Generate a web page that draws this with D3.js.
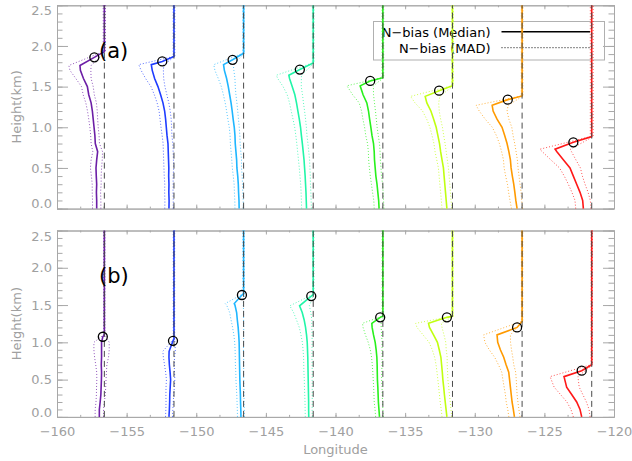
<!DOCTYPE html>
<html>
<head>
<meta charset="utf-8">
<script src="https://cdnjs.cloudflare.com/ajax/libs/d3/7.8.5/d3.min.js"></script>
<style>
body { margin: 0; background: #fff; }
svg text { font-family: "DejaVu Sans", sans-serif; }
</style>
</head>
<body>
<script>
// reference longitude of each site (dashed lines)
var stationLon = [-156.6, -151.6, -146.6, -141.6, -136.6, -131.6, -126.6, -121.6];
var colors = ["#6c1ea6", "#1e3cff", "#1fb6ff", "#22f5a8", "#28f01c", "#c0ff10", "#ff9a00", "#ff1818"];
var xTicks = [-160, -155, -150, -145, -140, -135, -130, -125, -120];
var yTicks = [0, 0.5, 1.0, 1.5, 2.0, 2.5];
// height grid (km) for the profile values below
var heights = [0, 0.1, 0.2, 0.3, 0.4, 0.5, 0.6, 0.7, 0.8, 0.9, 1.0, 1.1, 1.2, 1.3, 1.4, 1.5, 1.6, 1.7, 1.8, 1.9, 2.0];

// ---- panel (a) : N-bias median / MAD, in degrees of longitude from the site line
var medA = [
  [-0.55,-0.55,-0.57,-0.55,-0.58,-0.6,-0.55,-0.48,-0.65,-0.68,-0.74,-0.8,-0.86,-0.95,-1.12,-1.22,-1.5,-1.72],
  [-0.36,-0.35,-0.37,-0.36,-0.38,-0.37,-0.39,-0.41,-0.43,-0.5,-0.55,-0.6,-0.67,-0.79,-0.96,-1.15,-1.39,-1.56],
  [-0.32,-0.33,-0.36,-0.38,-0.42,-0.48,-0.5,-0.55,-0.6,-0.62,-0.67,-0.75,-0.82,-0.9,-1.0,-1.1,-1.22,-1.38],
  [-0.48,-0.5,-0.52,-0.55,-0.58,-0.62,-0.66,-0.72,-0.78,-0.85,-0.91,-1.0,-1.1,-1.2,-1.32,-1.51,-1.7],
  [-0.27,-0.3,-0.36,-0.42,-0.5,-0.55,-0.6,-0.62,-0.67,-0.78,-0.86,-0.95,-1.03,-1.15,-1.42],
  [-0.4,-0.45,-0.5,-0.55,-0.6,-0.65,-0.75,-0.85,-0.93,-1.05,-1.17,-1.35,-1.55,-1.84],
  [-0.36,-0.45,-0.52,-0.6,-0.7,-0.79,-0.84,-0.95,-1.08,-1.25,-1.44,-1.8,-2.08],
  [-0.6,-0.65,-0.84,-1.08,-1.32,-1.56,-2.04,-2.5]
];
var madA = [
  [0.3,0.3,0.3,0.32,0.35,0.4,0.4,0.35,0.3,0.3,0.3,0.32,0.35,0.38,0.4,0.42,0.55,0.75],
  [0.3,0.3,0.3,0.3,0.32,0.35,0.35,0.35,0.35,0.35,0.38,0.4,0.4,0.42,0.45,0.5,0.65,0.8],
  [0.3,0.3,0.3,0.3,0.32,0.33,0.35,0.35,0.35,0.35,0.36,0.38,0.4,0.42,0.45,0.5,0.6,0.68],
  [0.35,0.35,0.35,0.35,0.37,0.38,0.4,0.4,0.4,0.4,0.42,0.45,0.48,0.5,0.55,0.65,0.85],
  [0.35,0.35,0.38,0.4,0.4,0.42,0.42,0.42,0.43,0.45,0.45,0.48,0.5,0.55,0.75],
  [0.35,0.35,0.35,0.36,0.36,0.36,0.38,0.4,0.4,0.42,0.45,0.5,0.6,0.85],
  [0.4,0.42,0.45,0.45,0.48,0.5,0.5,0.52,0.55,0.6,0.7,0.85,1.0],
  [0.55,0.55,0.58,0.6,0.65,0.75,0.9,1.05]
];
var peakHA   = [1.76, 1.77, 1.77, 1.64, 1.51, 1.38, 1.27, 0.73];
var peakOffA = [-1.75, -1.63, -1.44, -1.75, -1.63, -1.96, -2.15, -2.63];
var peakMadA = [0.8, 0.9, 0.7, 0.9, 0.95, 1.05, 1.15, 1.1];
var circHA   = [1.86, 1.81, 1.83, 1.71, 1.57, 1.45, 1.34, 0.815];
var circOffA = [-0.72, -0.84, -0.79, -0.96, -0.91, -0.96, -1.03, -1.32];
var topHA    = [1.93, 1.87, 1.91, 1.79, 1.61, 1.51, 1.385, 0.885];
var madTopA  = [0.08, 0.06, 0.06, 0.06, 0.06, 0.06, 0.06, 0.1];

// ---- panel (b)
var medB = [
  [-0.36,-0.36,-0.3,-0.25,-0.23,-0.21,-0.2,-0.22,-0.2,-0.2],
  [-0.36,-0.33,-0.31,-0.3,-0.27,-0.24,-0.28,-0.33,-0.36],
  [-0.19,-0.2,-0.22,-0.23,-0.25,-0.27,-0.28,-0.29,-0.3,-0.31,-0.32,-0.35,-0.39,-0.45,-0.5,-0.62],
  [-0.32,-0.33,-0.33,-0.34,-0.35,-0.36,-0.37,-0.38,-0.39,-0.41,-0.43,-0.48,-0.55,-0.65,-0.79],
  [-0.24,-0.28,-0.32,-0.34,-0.36,-0.39,-0.4,-0.41,-0.43,-0.48,-0.55,-0.67,-0.77],
  [-0.4,-0.46,-0.52,-0.58,-0.63,-0.69,-0.73,-0.78,-0.83,-0.95,-1.08,-1.36,-1.65],
  [-0.55,-0.63,-0.72,-0.78,-0.84,-0.9,-0.96,-1.15,-1.32,-1.56,-1.75],
  [-0.72,-0.84,-1.08,-1.44,-1.8]
];
var madB = [
  [0.3,0.3,0.3,0.32,0.33,0.33,0.35,0.4,0.5,0.55],
  [0.25,0.25,0.26,0.28,0.3,0.3,0.32,0.35,0.4],
  [0.25,0.25,0.25,0.26,0.27,0.28,0.28,0.3,0.3,0.3,0.32,0.35,0.4,0.45,0.5,0.6],
  [0.25,0.25,0.26,0.27,0.28,0.28,0.3,0.3,0.3,0.32,0.35,0.4,0.45,0.55,0.62],
  [0.28,0.28,0.3,0.3,0.3,0.3,0.32,0.35,0.38,0.42,0.5,0.58,0.65],
  [0.35,0.35,0.36,0.36,0.36,0.36,0.38,0.4,0.45,0.5,0.6,0.75,0.9],
  [0.4,0.4,0.42,0.42,0.45,0.48,0.5,0.55,0.65,0.8,0.92],
  [0.6,0.65,0.7,0.8,0.9]
];
var peakHB   = [1.0, 0.88, 1.52, 1.49, 1.255, 1.255, 1.10, 0.54];
var peakOffB = [-0.2, -0.35, -0.67, -0.98, -0.79, -1.72, -1.8, -1.99];
var peakMadB = [0.55, 0.45, 0.65, 0.7, 0.67, 0.92, 0.96, 1.0];
var circHB   = [1.075, 1.02, 1.635, 1.62, 1.335, 1.335, 1.2, 0.62];
var circOffB = [-0.11, -0.07, -0.12, -0.14, -0.19, -0.4, -0.36, -0.72];
var topHB    = [1.1, 1.04, 1.65, 1.64, 1.35, 1.35, 1.28, 0.70];
var madTopB  = [0.05, 0.05, 0.05, 0.05, 0.05, 0.05, 0.05, 0.05];

var W = 632, H = 461;
var axisColor = "#a8a8a8", labelColor = "#a0a0a0";

var svg = d3.select("body").append("svg")
    .attr("width", W)
    .attr("height", H);

var x = d3.scaleLinear().domain([-160, -120]).range([57, 614]);

var xMinor = d3.range(-160, -119.9, 5 / 3);
var yMinor = d3.range(0, 2.51, 0.1);

// one panel = frame + ticks + profiles
function drawPanel(top, bottom, label, labelY, showX, med, mad, peakH, peakOff, peakMad, circH, circOff, topH, madTop, legend) {

  var y = d3.scaleLinear().domain([0, 2.5]).range([bottom, top]);
  var g = svg.append("g");

  function styleAxis(sel) {
    sel.select(".domain").attr("stroke", axisColor);
    sel.selectAll(".tick line").attr("stroke", axisColor);
    sel.attr("font-size", 13).attr("font-family", "DejaVu Sans, sans-serif");
    sel.selectAll(".tick text").attr("fill", labelColor);
  }

  // left axis with labels
  var left = g.append("g").attr("transform", "translate(" + x.range()[0] + ",0)")
      .call(d3.axisLeft(y).tickValues(yTicks).tickSize(-11).tickSizeOuter(0).tickPadding(5)
        .tickFormat(d3.format(".1f")));
  styleAxis(left);
  // IDL keeps the end labels inside the box
  left.selectAll(".tick text").attr("transform", function(d) {
    if (d === 2.5) return "translate(0,5.5)";
    if (d === 0) return "translate(0,-4.8)";
    return null;
  });
  styleAxis(g.append("g").attr("transform", "translate(" + x.range()[0] + ",0)")
      .call(d3.axisLeft(y).tickValues(yMinor).tickSize(-5.5).tickSizeOuter(0).tickFormat("")));
  styleAxis(g.append("g").attr("transform", "translate(" + x.range()[1] + ",0)")
      .call(d3.axisRight(y).tickValues(yTicks).tickSize(-11).tickSizeOuter(0).tickFormat("")));
  styleAxis(g.append("g").attr("transform", "translate(" + x.range()[1] + ",0)")
      .call(d3.axisRight(y).tickValues(yMinor).tickSize(-5.5).tickSizeOuter(0).tickFormat("")));

  var bottomAxis = g.append("g").attr("transform", "translate(0," + bottom + ")")
      .call(d3.axisBottom(x).tickValues(xTicks).tickSize(-4).tickSizeOuter(0).tickPadding(10)
        .tickFormat(showX ? d3.format("d") : ""));
  styleAxis(bottomAxis);
  styleAxis(g.append("g").attr("transform", "translate(0," + bottom + ")")
      .call(d3.axisBottom(x).tickValues(xMinor).tickSize(-2).tickSizeOuter(0).tickFormat("")));
  styleAxis(g.append("g").attr("transform", "translate(0," + top + ")")
      .call(d3.axisTop(x).tickValues(xTicks).tickSize(-4).tickSizeOuter(0).tickFormat("")));
  styleAxis(g.append("g").attr("transform", "translate(0," + top + ")")
      .call(d3.axisTop(x).tickValues(xMinor).tickSize(-2).tickSizeOuter(0).tickFormat("")));

  // y title
  g.append("text")
    .attr("transform", "translate(21," + ((top + bottom) / 2) + ") rotate(-90)")
    .attr("text-anchor", "middle")
    .attr("font-size", 13)
    .attr("fill", labelColor)
    .text("Height(km)");

  if (legend) legend(g);

  var line = d3.line()
      .x(function(d) { return d[0]; })
      .y(function(d) { return y(d[1]); });

  stationLon.forEach(function(lon, p) {
    var solid = [], lo = [], hi = [];
    med[p].forEach(function(v, i) {
      solid.push([x(lon + v), heights[i]]);
      lo.push([x(lon + v - mad[p][i]), heights[i]]);
      hi.push([x(lon + v + mad[p][i]), heights[i]]);
    });
    solid.push([x(lon + peakOff[p]), peakH[p]]);
    solid.push([x(lon + circOff[p]), circH[p]]);
    solid.push([x(lon), topH[p]]);
    solid.push([x(lon), 2.5]);
    lo.push([x(lon + peakOff[p] - peakMad[p]), peakH[p]]);
    lo.push([x(lon - madTop[p]), topH[p]]);
    lo.push([x(lon - madTop[p]), 2.5]);
    hi.push([x(lon + peakOff[p] + peakMad[p]), peakH[p]]);
    hi.push([x(lon + madTop[p]), topH[p]]);
    hi.push([x(lon + madTop[p]), 2.5]);

    [lo, hi].forEach(function(pts) {
      g.append("path")
        .attr("d", line(pts))
        .attr("fill", "none")
        .attr("stroke", colors[p])
        .attr("stroke-opacity", 0.75)
        .attr("stroke-width", 1)
        .attr("stroke-dasharray", "1,2");
    });
    g.append("path")
      .attr("d", line(solid))
      .attr("fill", "none")
      .attr("stroke", colors[p])
      .attr("stroke-width", 1.6);
  });

  // site lines
  g.selectAll("line.site")
    .data(stationLon)
    .enter().append("line")
      .attr("class", "site")
      .attr("x1", function(d) { return x(d); })
      .attr("x2", function(d) { return x(d); })
      .attr("y1", y(0))
      .attr("y2", y(2.5))
      .attr("stroke", "#4a4a4a")
      .attr("stroke-width", 1)
      .attr("stroke-dasharray", "6,4");

  // PBL markers
  g.selectAll("circle.pbl")
    .data(stationLon)
    .enter().append("circle")
      .attr("class", "pbl")
      .attr("cx", function(d, i) { return x(d + circOff[i]); })
      .attr("cy", function(d, i) { return y(circH[i]); })
      .attr("r", 4.5)
      .attr("fill", "none")
      .attr("stroke", "#000")
      .attr("stroke-width", 1.3);

  g.append("text")
    .attr("x", 99)
    .attr("y", labelY)
    .attr("font-size", 21)
    .attr("fill", "#000")
    .text(label);
}

function drawLegend(g) {
  g.append("rect")
    .attr("x", 373.5).attr("y", 21.5)
    .attr("width", 231).attr("height", 38.5)
    .attr("fill", "none")
    .attr("stroke", "#b0b0b0");
  var rows = [["N\u2212bias (Median)", null, 36.5, 31.7], ["N\u2212bias (MAD)", "1,2", 52.5, 47.7]];
  rows.forEach(function(r) {
    g.append("text")
      .attr("x", 490.5).attr("y", r[2])
      .attr("text-anchor", "end")
      .attr("font-size", 13)
      .attr("fill", "#000")
      .text(r[0]);
    g.append("line")
      .attr("x1", 501.5).attr("x2", 590)
      .attr("y1", r[3]).attr("y2", r[3])
      .attr("stroke", "#000")
      .attr("stroke-width", r[1] ? 1 : 1.5)
      .attr("stroke-dasharray", r[1]);
  });
}

drawPanel(5.3, 208.6, "(a)", 58, false, medA, madA, peakHA, peakOffA, peakMadA, circHA, circOffA, topHA, madTopA, drawLegend);
drawPanel(230.5, 416.9, "(b)", 283, true, medB, madB, peakHB, peakOffB, peakMadB, circHB, circOffB, topHB, madTopB, null);

svg.append("text")
  .attr("x", (x.range()[0] + x.range()[1]) / 2)
  .attr("y", 454)
  .attr("text-anchor", "middle")
  .attr("font-size", 13)
  .attr("fill", labelColor)
  .text("Longitude");
</script>
</body>
</html>
